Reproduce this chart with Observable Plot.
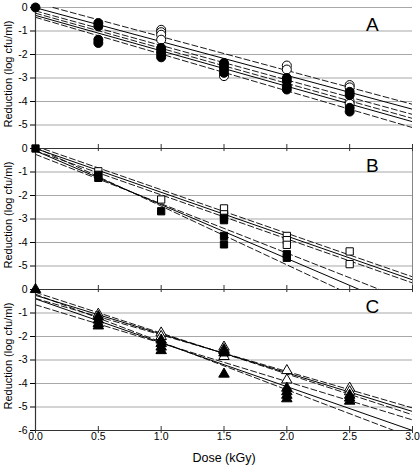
<!DOCTYPE html>
<html><head><meta charset="utf-8">
<script src="https://cdn.jsdelivr.net/npm/d3@7"></script>
<script src="https://cdn.jsdelivr.net/npm/@observablehq/plot@0.6"></script>
<style>body{margin:0;background:#fff}</style>
</head><body><div id="chart"></div>
<script>
const panels = ["A", "B", "C"];
const doseTicks = [0, 0.5, 1, 1.5, 2, 2.5, 3];
const reductionTicks = [0, -1, -2, -3, -4, -5, -6];
const yTitle = "Reduction (log cfu/ml)";
const xTitle = "Dose (kGy)";

// [dose, reduction]
const aOpen = [[1.0,-0.95],[1.0,-1.05],[1.0,-1.16],[1.0,-1.37],[1.5,-2.92],[2.0,-2.47],[2.0,-2.64],[2.5,-3.3],[2.5,-3.4],[2.5,-4.0],[2.5,-4.1]];
const aFilled = [[0,0],[0.5,-0.66],[0.5,-0.8],[0.5,-1.37],[0.5,-1.51],[1.0,-1.72],[1.0,-1.86],[1.0,-2.0],[1.0,-2.12],[1.5,-2.36],[1.5,-2.5],[1.5,-2.64],[1.5,-2.78],[2.0,-3.0],[2.0,-3.14],[2.0,-3.35],[2.0,-3.49],[2.5,-3.59],[2.5,-3.73],[2.5,-4.27],[2.5,-4.43]];
const bOpen = [[0.5,-0.97],[1.0,-2.17],[1.5,-2.55],[1.5,-2.8],[2.0,-3.72],[2.0,-3.9],[2.0,-4.1],[2.5,-4.38],[2.5,-4.92]];
const bFilled = [[0,0],[0.5,-1.12],[0.5,-1.25],[1.0,-2.67],[1.5,-2.95],[1.5,-3.05],[1.5,-3.72],[1.5,-4.08],[2.0,-4.5],[2.0,-4.65]];
const cOpen = [[0.5,-1.05],[1.0,-1.85],[1.0,-2.0],[1.5,-2.45],[1.5,-2.55],[1.5,-2.85],[2.0,-3.45],[2.0,-3.85],[2.5,-4.2],[2.5,-4.35]];
const cFilled = [[0,0],[0.5,-1.15],[0.5,-1.3],[0.5,-1.45],[0.5,-1.55],[1.0,-2.15],[1.0,-2.3],[1.0,-2.45],[1.0,-2.6],[1.5,-2.6],[1.5,-2.7],[1.5,-3.6],[2.0,-4.2],[2.0,-4.35],[2.0,-4.5],[2.0,-4.65],[2.5,-4.5],[2.5,-4.62],[2.5,-4.75]];

// regression fits and confidence limits: [reduction at dose 0, reduction at dose 3]
const aFits = [[-0.01,-4.33],[-0.336,-4.86]];
const aBands = [[0.2,-4.12],[-0.146,-4.55],[-0.244,-4.72],[-0.418,-5.11]];
const bFits = [[0.0,-5.59],[-0.1,-6.97]];
const bBands = [[0.1,-5.46],[-0.1,-5.72],[0.05,-7.45],[-0.25,-6.55]];
const cFits = [[-0.25,-5.19],[-0.4,-6.0]];
const cBands = [[-0.12,-5.33],[-0.38,-5.04],[-0.2,-6.3],[-0.65,-5.55]];

const pts = [];
function addPts(panel, arr, kind) { for (const [dose, red] of arr) pts.push({panel, dose, red, kind}); }
addPts("A", aOpen, "open"); addPts("A", aFilled, "filled");
addPts("B", bOpen, "open"); addPts("B", bFilled, "filled");
addPts("C", cOpen, "open"); addPts("C", cFilled, "filled");

const segs = [];
function addSegs(panel, arr, kind) {
  arr.forEach(([y0, y3], i) => {
    const id = panel + kind + i;
    segs.push({panel, kind, id, dose: 0, red: y0});
    segs.push({panel, kind, id, dose: 3, red: y3});
  });
}
addSegs("A", aFits, "fit"); addSegs("A", aBands, "band");
addSegs("B", bFits, "fit"); addSegs("B", bBands, "band");
addSegs("C", cFits, "fit"); addSegs("C", cBands, "band");

const grid = [];
for (const p of panels) for (const v of reductionTicks.slice(0, 6)) grid.push({panel: p, v});

const symbolOf = {A: "circle", B: "square", C: "triangle"};
const rOf = {A: 4.5, B: 4.1, C: 3.9};

const dotMarks = [];
for (const p of panels) {
  for (const kind of ["open", "filled"]) {
    dotMarks.push(Plot.dot(pts.filter(d => d.panel === p && d.kind === kind), {
      x: "dose", y: "red", fy: "panel", symbol: symbolOf[p], r: rOf[p],
      fill: kind === "open" ? "white" : "black", stroke: "black", strokeWidth: 1
    }));
  }
}

const chart = Plot.plot({
  width: 420, height: 468,
  marginLeft: 35, marginRight: 8, marginTop: 6, marginBottom: 37,
  style: {fontFamily: "'Liberation Sans', Arial, sans-serif", background: "white", color: "black"},
  x: {domain: [0, 3]},
  y: {domain: [-6, 0]},
  fy: {domain: panels, padding: 0, axis: null},
  marks: [
    Plot.ruleY(grid, {y: "v", fy: "panel", stroke: "#a8a8a8", strokeWidth: 1.2}),
    Plot.line(segs.filter(d => d.kind === "band"), {x: "dose", y: "red", z: "id", fy: "panel", stroke: "black", strokeWidth: 0.9, strokeDasharray: "6,3", clip: true}),
    Plot.line(segs.filter(d => d.kind === "fit"), {x: "dose", y: "red", z: "id", fy: "panel", stroke: "black", strokeWidth: 1, clip: true}),
    Plot.ruleX([3], {y1: -6, y2: 0, fy: () => "B", stroke: "#666", strokeWidth: 0.8}),
    Plot.ruleY([-6], {stroke: "#333", strokeWidth: 1.2}),
    Plot.ruleX([0], {stroke: "#333", strokeWidth: 1.2}),
    Plot.ruleX(doseTicks, {y1: -6.13, y2: -5.83, stroke: "#333"}),
    Plot.axisY({ticks: reductionTicks, tickSize: 5, tickPadding: 3, fontSize: 10.5, label: null,
      tickFormat: d => d === -6 ? "" : String(d)}),
    Plot.text(["C"], {fy: d => d, x: 0, y: -6, text: () => "-6", textAnchor: "end", dx: -8, fontSize: 10.5}),
    Plot.axisX({ticks: doseTicks, tickFormat: d3.format(".1f"), tickSize: 0, tickPadding: 2, fontSize: 10.5, label: null}),
    ...dotMarks,
    Plot.text(panels, {fy: d => d, x: 2.68, y: -0.72, text: d => d, fontSize: 19}),
    Plot.text(panels, {fy: d => d, frameAnchor: "left", textAnchor: "middle", dx: -27, dy: -4, rotate: -90, text: () => yTitle, fontSize: 11}),
    Plot.text(["C"], {fy: d => d, frameAnchor: "bottom", dy: 31, text: () => xTitle, fontSize: 12.5})
  ]
});
document.getElementById("chart").append(chart);
</script>
</body></html>
